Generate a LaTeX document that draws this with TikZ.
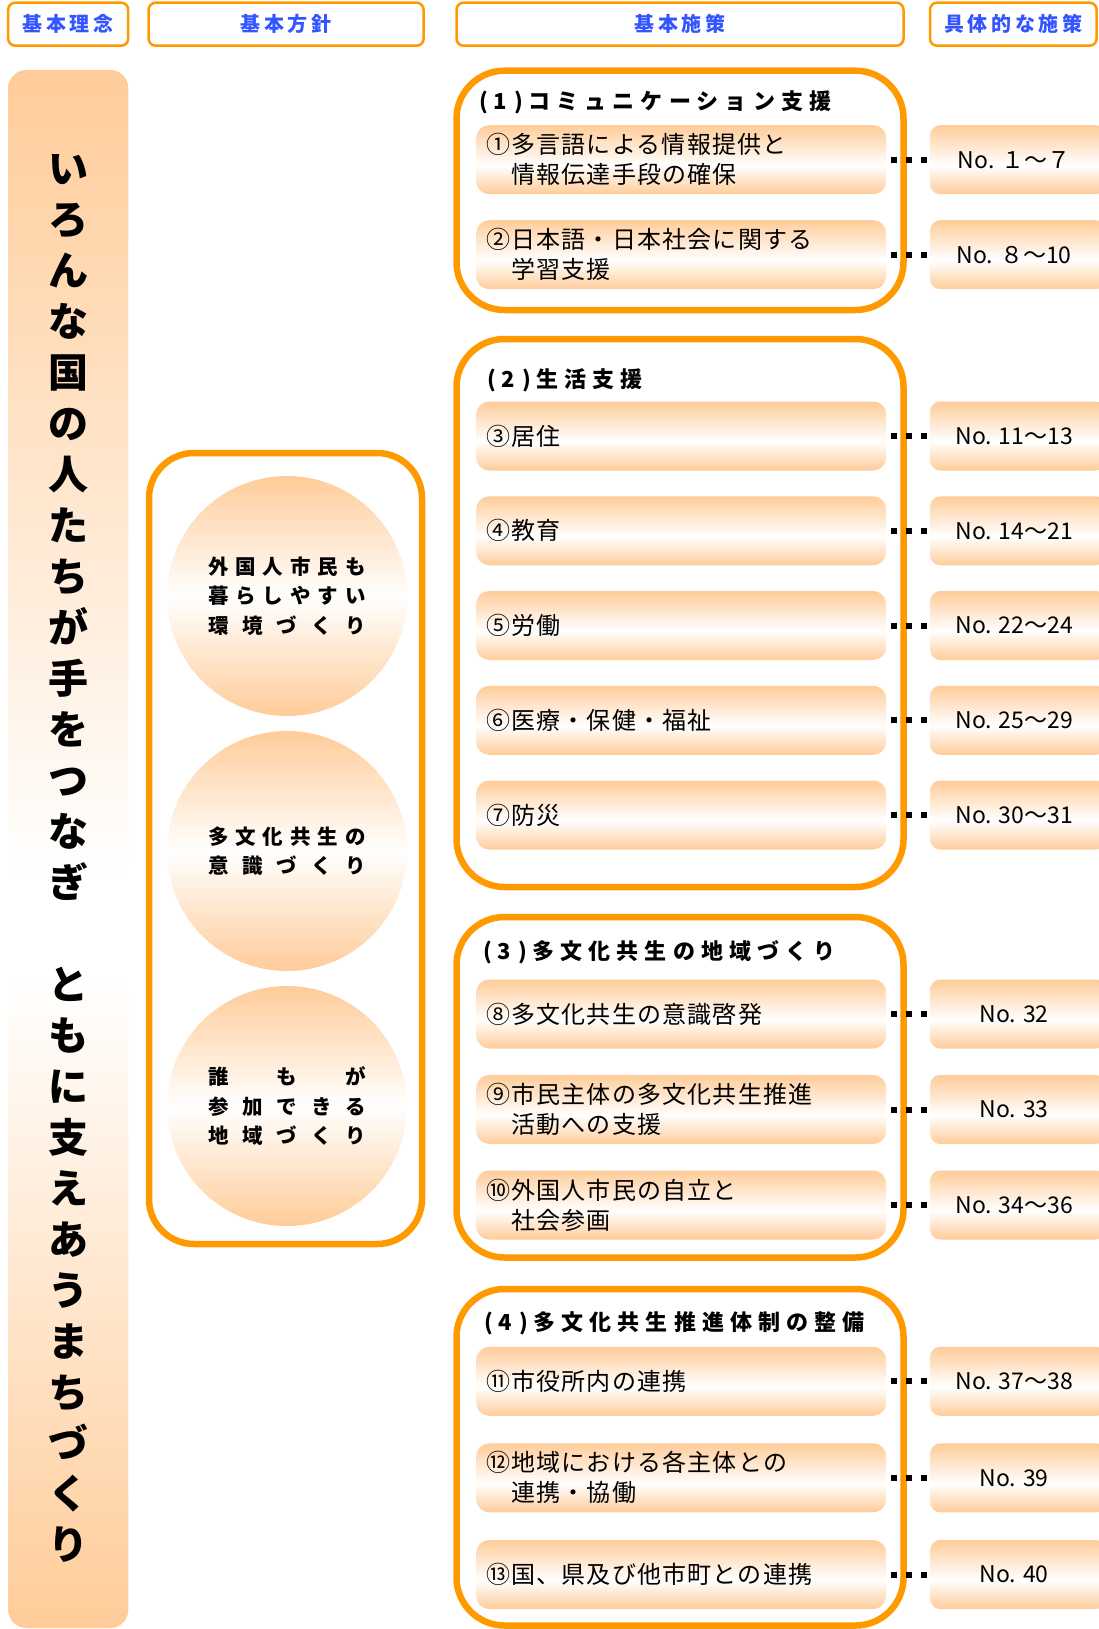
\documentclass[tikz,border=0pt]{standalone}
\usepackage{fontspec}
\newfontfamily\jpreg{Noto Sans CJK JP}
\newfontfamily\jpitem{Noto Sans CJK JP}[LetterSpace=5]
\newfontfamily\jptitle{Noto Sans CJK JP}[LetterSpace=28]
\newfontfamily\jphead{Noto Sans CJK JP}[LetterSpace=18]
\definecolor{orng}{RGB}{255,153,0}
\definecolor{peach}{RGB}{255,204,153}
\definecolor{hblue}{RGB}{51,85,255}
\pgfdeclareverticalshading{itemshade}{100bp}{color(0bp)=(peach); color(25bp)=(peach); color(46bp)=(white); color(75bp)=(peach); color(100bp)=(peach)}
\pgfdeclareverticalshading{barshade}{100bp}{color(0bp)=(peach); color(25bp)=(peach); color(46bp)=(white); color(49bp)=(white); color(75bp)=(peach); color(100bp)=(peach)}
\newcommand\pn[1]{(\hspace{6pt}#1\hspace{7pt})\hspace{5pt}}
\begin{document}
\begin{tikzpicture}[x=1pt,y=-1pt,
  hdr/.style={draw=orng, line width=2.5pt, rounded corners=7pt, fill=white, minimum height=43pt, inner sep=0pt, text=hblue, font=\jphead\bfseries\fontsize{20}{24}\selectfont},
  bar/.style={rounded corners=18pt, shading=barshade, minimum width=120pt, minimum height=1558pt, inner sep=0pt},
  motto/.style={anchor=base, inner sep=0pt, font=\jpreg\bfseries\fontsize{40}{40}\selectfont},
  grp/.style={draw=orng, line width=6.5pt, rounded corners=48pt, inner sep=0pt, minimum width=447pt},
  circ/.style={circle, minimum size=240pt, inner sep=0pt, top color=peach, bottom color=peach, middle color=white, align=center, font=\jpreg\bfseries\fontsize{20.5}{29.5}\selectfont},
  ttl/.style={anchor=west, inner sep=0pt, font=\jptitle\bfseries\fontsize{22}{24}\selectfont},
  item/.style={anchor=west, rounded corners=13pt, shading=itemshade, minimum width=410pt, minimum height=69pt, text width=390pt, inner xsep=10pt, inner ysep=0pt, align=left, font=\jpitem\fontsize{24}{30}\selectfont},
  numbox/.style={anchor=west, rounded corners=10pt, shading=itemshade, minimum width=176pt, minimum height=69pt, inner sep=0pt, font=\jpreg\fontsize{23}{26}\selectfont, execute at end node={\hspace*{8pt}}},
  dots/.style={line width=6pt, dash pattern=on 6pt off 9pt}
]
\useasboundingbox (0,0) rectangle (1098,1629);
% headers
\node[hdr, minimum width=120pt] (h1) at (68.2,24.2) {基本理念};
\node[hdr, minimum width=275pt] (h2) at (286.1,24.2) {基本方針};
\node[hdr, minimum width=447pt] (h3) at (680,24.2) {基本施策};
\node[hdr, minimum width=166.6pt] (h4) at (1013.3,24.2) {具体的な施策};
% left bar
\node[bar] (bar) at (68.3,849) {};
\foreach \ch [count=\k from 0] in {い,ろ,ん,な,国,の,人,た,ち,が,手,を,つ,な,ぎ}
  \node[motto] (ma\k) at (68,{169+50.96*\k+15}) {\ch};
\foreach \ch [count=\k from 16] in {と,も,に,支,え,あ,う,ま,ち,づ,く,り}
  \node[motto] (mb\k) at (68,{169+50.96*\k+15}) {\ch};
% middle column
\node[grp, minimum width=273pt, minimum height=791pt, rounded corners=45pt] (mid) at (285.5,848.5) {};
\node[circ] (c1) at (287,596) {\hbox to 158pt{外\hfill 国\hfill 人\hfill 市\hfill 民\hfill も}\\\hbox to 158pt{暮\hfill ら\hfill し\hfill や\hfill す\hfill い}\\\hbox to 158pt{環\hfill 境\hfill づ\hfill く\hfill り}};
\node[circ] (c2) at (287,851) {\hbox to 158pt{多\hfill 文\hfill 化\hfill 共\hfill 生\hfill の}\\\hbox to 158pt{意\hfill 識\hfill づ\hfill く\hfill り}};
\node[circ] (c3) at (287,1106) {\hbox to 158pt{誰\hfill も\hfill が}\\\hbox to 158pt{参\hfill 加\hfill で\hfill き\hfill る}\\\hbox to 158pt{地\hfill 域\hfill づ\hfill く\hfill り}};
% group boxes
\node[grp, minimum height=239.3pt] (g1) at (680,190.35) {};
\node[grp, minimum height=548pt] (g2) at (680,613) {};
\node[grp, minimum height=340.5pt] (g3) at (680,1087.25) {};
\node[grp, minimum height=336.5pt] (g4) at (680,1457.25) {};
\node[ttl] (t1) at (479,102) {\pn{1}コミュニケーション支援};
\node[ttl] (t2) at (487,380) {\pn{2}生活支援};
\node[ttl] (t3) at (483,952) {\pn{3}多文化共生の地域づくり};
\node[ttl] (t4) at (484,1323) {\pn{4}多文化共生推進体制の整備};
% items
\node[item] (i1) at (476,159.7) {①多言語による情報提供と\\　情報伝達手段の確保};
\node[item] (i2) at (476,254.7) {②日本語・日本社会に関する\\　学習支援};
\node[item] (i3) at (476,436) {③居住};
\node[item] (i4) at (476,530.75) {④教育};
\node[item] (i5) at (476,625.5) {⑤労働};
\node[item] (i6) at (476,720.25) {⑥医療・保健・福祉};
\node[item] (i7) at (476,815) {⑦防災};
\node[item] (i8) at (476,1014) {⑧多文化共生の意識啓発};
\node[item] (i9) at (476,1109.5) {⑨市民主体の多文化共生推進\\　活動への支援};
\node[item] (i10) at (476,1205) {⑩外国人市民の自立と\\　社会参画};
\node[item] (i11) at (476,1381.3) {⑪市役所内の連携};
\node[item] (i12) at (476,1477.8) {⑫地域における各主体との\\　連携・協働};
\node[item] (i13) at (476,1574.5) {⑬国、県及び他市町との連携};
% number boxes
\node[numbox] (n1) at (930,159.7) {No. １～７};
\node[numbox] (n2) at (930,254.7) {No. ８～10};
\node[numbox] (n3) at (930,436) {No. 11～13};
\node[numbox] (n4) at (930,530.75) {No. 14～21};
\node[numbox] (n5) at (930,625.5) {No. 22～24};
\node[numbox] (n6) at (930,720.25) {No. 25～29};
\node[numbox] (n7) at (930,815) {No. 30～31};
\node[numbox] (n8) at (930,1014) {No. 32};
\node[numbox] (n9) at (930,1109.5) {No. 33};
\node[numbox] (n10) at (930,1205) {No. 34～36};
\node[numbox] (n11) at (930,1381.3) {No. 37～38};
\node[numbox] (n12) at (930,1477.8) {No. 39};
\node[numbox] (n13) at (930,1574.5) {No. 40};
% dotted connectors
\foreach \k in {1,...,13}
  \draw[dots] ([xshift=5pt]i\k.east) -- (n\k.west);
\end{tikzpicture}
\end{document}
